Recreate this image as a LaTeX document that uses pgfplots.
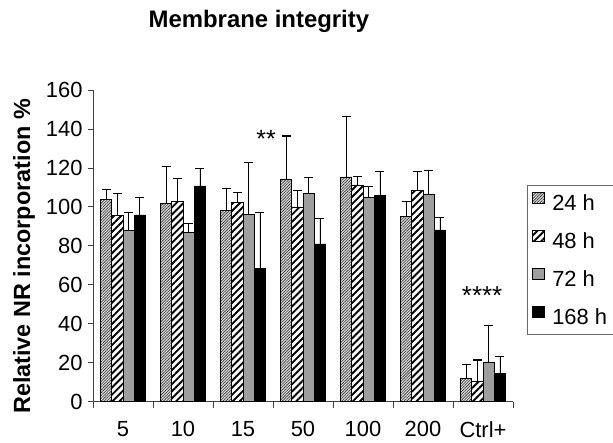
\documentclass[border=0pt]{standalone}
\usepackage{fontspec}
\setmainfont{Liberation Sans}
\usepackage{pgfplots}
\pgfplotsset{compat=1.18}
\usetikzlibrary{patterns.meta}
\pgfplotsset{
  myerr/.style={error bars/.cd, y dir=plus, y explicit,
    error bar style={black, line width=0.9bp},
    error mark options={rotate=90, mark size=4.5bp, black, line width=1.1bp}},
  sqlegend/.style={legend image code/.code={\draw[##1] (0bp,-0.5bp) rectangle (11.5bp,11bp);}},
}
\begin{document}
\begin{tikzpicture}
\path[use as bounding box] (-93bp,-41.3bp) rectangle (520bp,401.7bp);
\begin{axis}[
  at={(0bp,0bp)}, anchor=south west,
  scale only axis, width=420bp, height=311.7bp,
  xmin=-0.5, xmax=6.5, ymin=0, ymax=160,
  ytick={0,20,...,160},
  xtick={0,...,6}, xticklabels={5,10,15,50,100,200,Ctrl+},
  minor xtick={-0.5,0.5,...,6.5},
  major x tick style={draw=none},
  tick align=outside, major tick length=5bp, minor tick length=6bp,
  tick style={black!75, line width=0.8bp},
  axis x line*=bottom, axis y line*=left,
  axis line style={black!75, line width=0.8bp, -},
  ybar=0pt, bar width=11.3bp,
  /pgf/number format/assume math mode=true,
  tick label style={font=\fontsize{22}{26}\selectfont},
  xticklabel style={yshift=-11bp},
  yticklabel style={xshift=-2bp},
  title={Membrane integrity},
  title style={font=\bfseries\fontsize{24}{28}\selectfont, at={(axis description cs:0.395,1.18)}, anchor=base},
  ylabel={Relative NR incorporation \%},
  ylabel style={font=\bfseries\fontsize{23.5}{28}\selectfont, at={(axis description cs:-0.164,0.466)}, anchor=center},
  legend style={at={(axis description cs:1.0333,0.695)}, anchor=north west, draw=black!60,
    font=\fontsize{22}{26}\selectfont, row sep=16bp, inner xsep=5bp, inner ysep=6.5bp,
    /tikz/every odd column/.append style={column sep=6bp}},
  legend cell align=left,
]
\addplot[draw=black, line width=0.6bp, fill=gray!30, postaction={pattern={Lines[angle=45,distance=2bp,line width=0.6bp]}, pattern color=black!80}, sqlegend, myerr]
 coordinates {(0,103.9)+-(0,5.1) (1,101.9)+-(0,19) (2,98.1)+-(0,11.5) (3,114.4)+-(0,22) (4,115.4)+-(0,31.1) (5,95.2)+-(0,7.7) (6,11.8)+-(0,7.5)};
\addplot[draw=black, line width=0.6bp, fill=white, postaction={pattern={Lines[angle=45,distance=5bp,line width=1.9bp]}, pattern color=black}, sqlegend, myerr]
 coordinates {(0,95.7)+-(0,11.3) (1,103)+-(0,11.5) (2,102.2)+-(0,5.2) (3,100)+-(0,8.5) (4,111.3)+-(0,4.4) (5,108.4)+-(0,9.6) (6,10.6)+-(0,10.8)};
\addplot[draw=black, line width=0.6bp, fill=black!38, sqlegend, myerr]
 coordinates {(0,87.9)+-(0,9.1) (1,86.8)+-(0,4.7) (2,96)+-(0,26.6) (3,107)+-(0,8) (4,105)+-(0,5.3) (5,106.3)+-(0,12.5) (6,20)+-(0,19)};
\addplot[draw=black, line width=0.6bp, fill=black, sqlegend, myerr]
 coordinates {(0,95.9)+-(0,8.9) (1,110.8)+-(0,8.9) (2,68.5)+-(0,28.4) (3,81)+-(0,13.2) (4,105.8)+-(0,12.5) (5,88.2)+-(0,6.2) (6,14.4)+-(0,9)};
\legend{24 h,48 h,72 h,168 h}
\node[font=\fontsize{25}{30}\selectfont, anchor=base] at (axis cs:2.386,130.5) {**};
\node[font=\fontsize{26}{30}\selectfont, anchor=base] at (axis cs:5.985,49.8) {****};
\end{axis}
\end{tikzpicture}
\end{document}
